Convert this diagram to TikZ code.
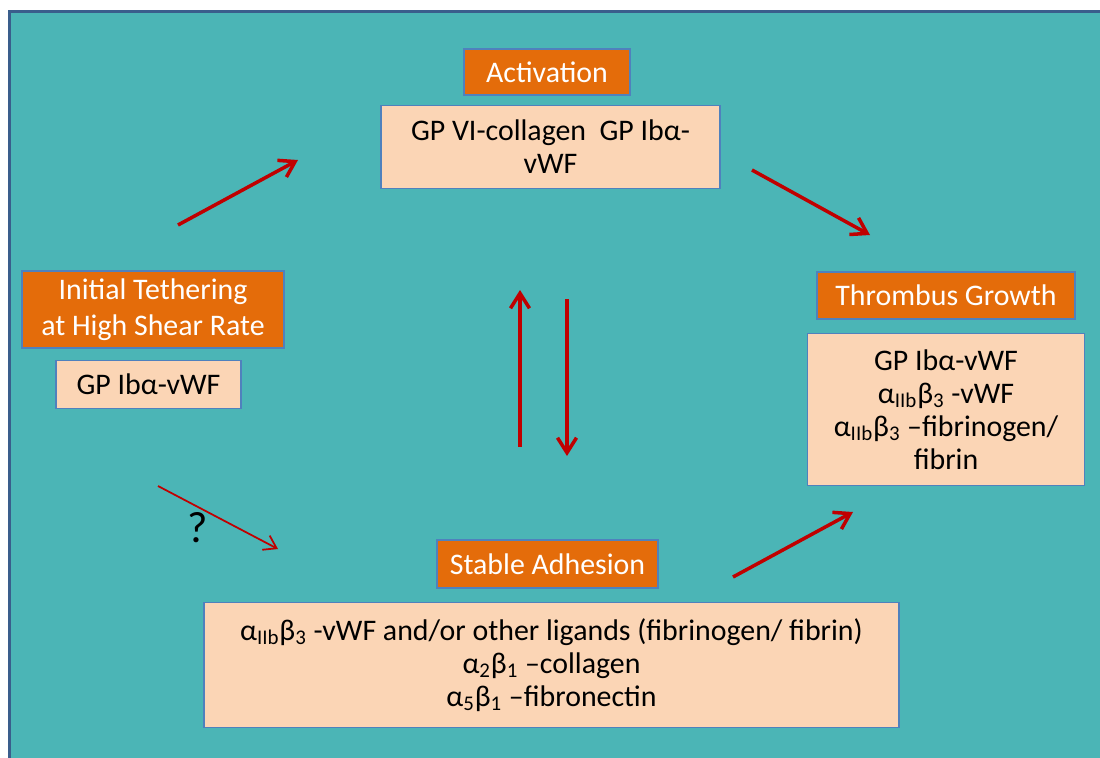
\documentclass[tikz,border=0pt]{standalone}
\usepackage{fontspec}
\setmainfont{Carlito}
\usetikzlibrary{arrows.meta,positioning}

\definecolor{bgteal}{RGB}{75,181,182}
\definecolor{framebl}{RGB}{58,94,140}
\definecolor{hdorange}{RGB}{228,108,10}
\definecolor{peach}{RGB}{251,213,181}
\definecolor{edgebl}{RGB}{79,129,189}
\definecolor{arrred}{RGB}{192,0,0}

\begin{document}
\begin{tikzpicture}[x=0.02cm, y=-0.02cm, >={Straight Barb[length=3mm,width=3.8mm]}, font=\fontsize{17pt}{18.8pt}\selectfont]
\tikzstyle{hdr}=[rectangle, draw=edgebl, line width=0.8pt, fill=hdorange, text=white, align=center, inner sep=0pt]
\tikzstyle{info}=[rectangle, draw=edgebl, line width=0.8pt, fill=peach, text=black, align=center, inner sep=0pt]
\tikzstyle{flow}=[->, draw=arrred, line width=2pt]
\useasboundingbox (0,0) rectangle (1100,758);
\fill[white] (0,0) rectangle (1100,758);
\fill[bgteal] (9.5,11.5) rectangle (1115,770);
\draw[framebl, line width=0.06cm] (9.5,770) -- (9.5,11.5) -- (1115,11.5);

\node[hdr, minimum width=3.32cm, minimum height=0.92cm] (act) at (547,72) {Activation};
\node[info, below=0.18cm of act, xshift=0.07cm, minimum width=6.78cm, minimum height=1.66cm] (actbox) {GP VI-collagen\ \ GP Ibα-\\ vWF};

\node[hdr, minimum width=5.24cm, minimum height=1.54cm, font=\fontsize{17pt}{20.5pt}\selectfont] (init) at (153,309.5) {Initial Tethering\\ at High Shear Rate};
\node[info, below=0.22cm of init, xshift=-0.09cm, minimum width=3.7cm, minimum height=0.96cm] (initbox) {GP Ibα-vWF};

\node[hdr, minimum width=5.16cm, minimum height=0.94cm] (thr) at (946,295.5) {Thrombus Growth};
\node[info, below=0.26cm of thr, minimum width=5.54cm, minimum height=3.04cm] (thrbox) {GP Ibα-vWF\\ α\textsubscript{IIb}β\textsubscript{3} -vWF\\ α\textsubscript{IIb}β\textsubscript{3} –fibrinogen/\\ fibrin};

\node[hdr, minimum width=4.42cm, minimum height=0.96cm] (stab) at (547.5,564) {Stable Adhesion};
\node[info, below=0.26cm of stab, xshift=0.08cm, minimum width=13.9cm, minimum height=2.5cm] (stabbox) {α\textsubscript{IIb}β\textsubscript{3} -vWF and/or other ligands (fibrinogen/ fibrin)\\ α\textsubscript{2}β\textsubscript{1} –collagen\\ α\textsubscript{5}β\textsubscript{1} –fibronectin};

\node[font=\fontsize{25pt}{30pt}\selectfont] (qm) at (198,528) {?};

\coordinate (up1) at (178,225);
\coordinate (up2) at (298,160);
\coordinate (dn1) at (752,170);
\coordinate (dn2) at (870,235);
\coordinate (fb1) at (520,447);
\coordinate (fb2) at (520,290);
\coordinate (bk1) at (567,299);
\coordinate (bk2) at (567,456);
\coordinate (gr1) at (733,577);
\coordinate (gr2) at (853,512);
\coordinate (ts1) at (158,486);
\coordinate (ts2) at (278,549);

\draw[flow] (up1) -- (up2);
\draw[flow] (dn1) -- (dn2);
\draw[flow] (fb1) -- (fb2);
\draw[flow] (bk1) -- (bk2);
\draw[flow] (gr1) -- (gr2);
\draw[flow, line width=1pt, -{Straight Barb[length=2.4mm,width=3.2mm]}] (ts1) -- (ts2);
\end{tikzpicture}
\end{document}
